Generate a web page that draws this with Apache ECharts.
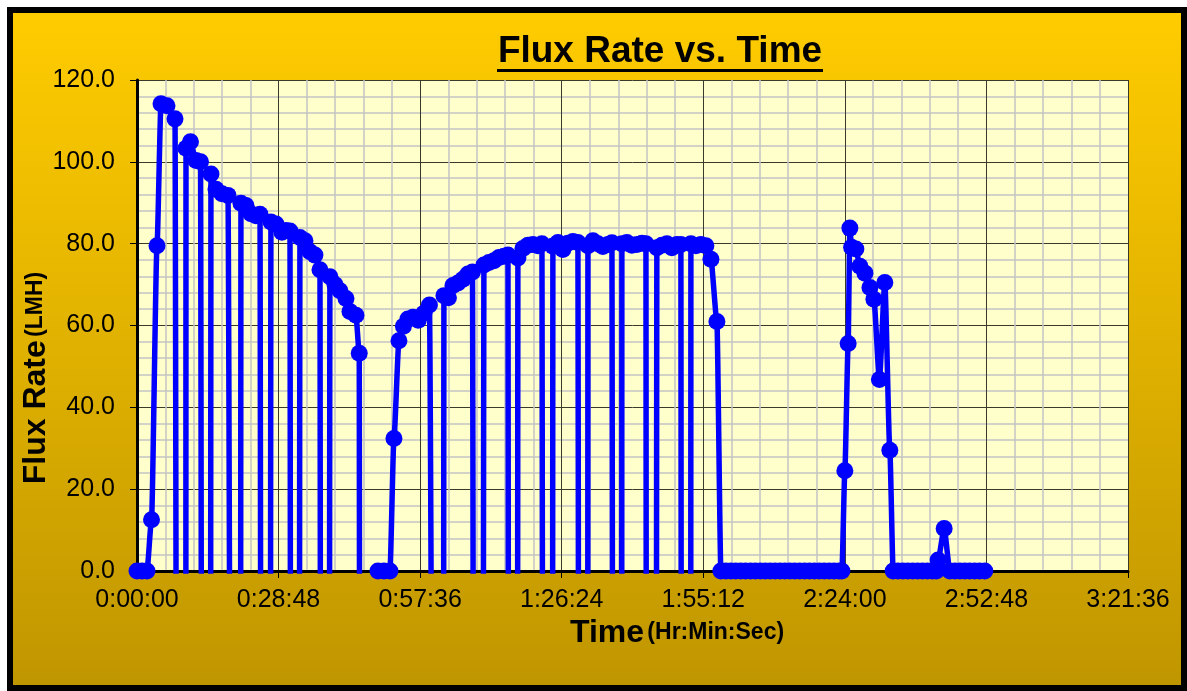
<!DOCTYPE html>
<html>
<head>
<meta charset="utf-8">
<title>Flux Rate vs. Time</title>
<script src="https://cdn.jsdelivr.net/npm/echarts@6/dist/echarts.min.js"></script>
<style>
html, body { margin: 0; padding: 0; background: #fff; }
#chart { position: absolute; left: 7px; top: 7px; width: 1168px; height: 672px; border: 6px solid #000; }
</style>
</head>
<body>
<div id="chart"></div>
<script>
// elapsed run time in minutes, one line per filtration cycle
// (backflush readings are negative and fall below the axis)
var runMinutes = [
	0.00, 1.02, 2.03, 2.95, 4.07, 4.88, 6.10, 7.73,
	8.20, 9.91,
	9.97, 10.88, 12.00, 12.92,
	13.28, 14.91,
	15.05, 16.07, 17.29, 18.51,
	19.26, 21.01,
	21.15, 22.17, 23.19, 24.20, 25.02,
	25.32, 27.05,
	27.25, 28.27, 29.49, 30.31, 31.12,
	31.32, 32.95,
	33.15, 34.17, 35.19, 36.20, 37.22,
	37.42, 39.05,
	39.25, 40.27, 41.29, 42.51, 43.32, 44.54, 45.21,
	45.36,
	49.02, 50.24, 51.46,
	52.27, 53.29, 54.20, 55.12, 56.14, 57.21, 58.37, 59.49,
	60.47, 62.30,
	62.44, 63.36, 64.27, 65.29, 66.31, 67.32, 68.24,
	68.60, 70.31,
	70.58, 71.59, 72.61, 73.63, 74.64, 75.46,
	75.66, 77.35,
	77.49, 78.51, 79.53, 80.54, 81.56, 82.37,
	82.64, 84.47,
	84.61, 85.63, 86.64, 87.66, 88.68, 89.69,
	89.96, 91.67,
	91.73, 92.75, 93.76, 94.78, 95.80, 96.61,
	96.88, 98.58,
	98.64, 99.66, 100.68, 101.70, 102.71, 103.53,
	103.67, 105.56,
	105.76, 106.78, 107.80, 108.81, 109.83, 110.64,
	110.79, 112.62,
	112.68, 113.70, 114.71, 115.73, 116.75, 117.97,
	118.78, 119.8, 120.8, 121.8, 122.8, 123.8, 124.8, 125.8, 126.8, 127.8, 128.8, 129.8, 130.8,
	131.8, 132.8, 133.8, 134.8, 135.8, 136.8, 137.8, 138.8, 139.8, 140.8, 141.8, 142.8, 143.4,
	144.00, 144.67, 145.02, 145.37, 146.24, 147.06, 148.08, 149.10, 149.91, 151.03, 152.13, 153.15,
	153.82, 154.8, 155.8, 156.8, 157.8, 158.8, 159.8, 160.8, 161.8, 162.6,
	162.98, 164.20,
	165.36, 166.4, 167.4, 168.4, 169.4, 170.4, 171.4, 172.47
];

// flux rate in LMH, same layout as runMinutes
var fluxLMH = [
	0, 0, 0, 12.5, 79.5, 114.2, 113.7, 110.5,
	-150, -150,
	103.3, 104.9, 100.3, 100.0,
	-150, -150,
	97.0, 93.3, 92.2, 91.8,
	-150, -150,
	89.9, 89.3, 87.3, 86.8, 87.2,
	-150, -150,
	85.3, 84.8, 82.8, 83.2, 83.1,
	-150, -150,
	81.5, 80.7, 78.0, 77.2, 73.6,
	-150, -150,
	71.9, 70.0, 68.5, 66.6, 63.4, 62.5, 53.2,
	-150,
	0, 0, 0,
	32.4, 56.3, 59.8, 61.6, 62.0, 61.3, 63.0, 65.0,
	-150, -150,
	67.3, 66.8, 69.8, 70.4, 71.3, 72.6, 73.1,
	-150, -150,
	74.8, 75.4, 75.8, 76.6, 76.9, 77.2,
	-150, -150,
	76.5, 78.8, 79.6, 79.8, 79.5, 80.0,
	-150, -150,
	79.4, 80.3, 78.6, 80.1, 80.5, 80.3,
	-150, -150,
	79.5, 80.7, 80.0, 79.3, 79.8, 80.2,
	-150, -150,
	80.0, 80.3, 79.6, 79.8, 80.1, 80.0,
	-150, -150,
	79.0, 79.6, 80.0, 79.0, 79.8, 79.8,
	-150, -150,
	80.0, 79.5, 79.8, 79.5, 76.2, 61.0,
	0, 0, 0, 0, 0, 0, 0, 0, 0, 0, 0, 0, 0,
	0, 0, 0, 0, 0, 0, 0, 0, 0, 0, 0, 0, 0,
	24.5, 55.6, 83.8, 79.1, 78.7, 74.5, 72.8, 69.3, 66.4, 46.8, 70.5, 29.5,
	0, 0, 0, 0, 0, 0, 0, 0, 0, 0,
	2.7, 10.4,
	0, 0, 0, 0, 0, 0, 0, 0
];

var xMaxSec = 12096;   // 3:21:36
var xStepSec = 1728;   // 0:28:48
var yMax = 120;
var yStep = 20;

function pad(n) {
	return n < 10 ? '0' + n : '' + n;
}
function hms(sec) {
	sec = Math.round(sec);
	var h = Math.floor(sec / 3600);
	var m = Math.floor((sec % 3600) / 60);
	var s = sec % 60;
	return h + ':' + pad(m) + ':' + pad(s);
}

var points = [];
for (var i = 0; i < runMinutes.length; i++) {
	points.push([runMinutes[i] * 60, fluxLMH[i]]);
}

var font = '"Liberation Sans", Arial, sans-serif';
var myChart = echarts.init(document.getElementById('chart'));

var option = {
	animation: false,
	backgroundColor: new echarts.graphic.LinearGradient(0, 0, 0, 1, [
		{ offset: 0, color: '#FFCC00' },
		{ offset: 1, color: '#C09600' }
	]),
	textStyle: { fontFamily: font },
	grid: {
		left: 124,
		top: 67,
		right: 53,
		bottom: 114,
		show: true,
		backgroundColor: '#FFFFCC',
		borderWidth: 0
	},
	xAxis: {
		type: 'value',
		min: 0,
		max: xMaxSec,
		interval: xStepSec,
		axisLine: { onZero: false, lineStyle: { color: '#000', width: 3 } },
		axisTick: { show: true, length: 7, lineStyle: { color: '#000', width: 1 } },
		axisLabel: {
			formatter: hms,
			fontSize: 25,
			color: '#000',
			margin: 17,
			fontFamily: font
		},
		splitLine: { show: true, lineStyle: { color: '#3a3a2a', width: 1 } },
		minorTick: { show: false, splitNumber: 5 },
		minorSplitLine: { show: true, lineStyle: { color: '#C4C4C4', width: 1.5 } }
	},
	yAxis: {
		type: 'value',
		min: 0,
		max: yMax,
		interval: yStep,
		axisLine: { show: true, lineStyle: { color: '#000', width: 3 } },
		axisTick: { show: true, length: 7, lineStyle: { color: '#000', width: 1 } },
		axisLabel: {
			formatter: function (v) { return v.toFixed(1); },
			fontSize: 25,
			color: '#000',
			margin: 22,
			fontFamily: font
		},
		splitLine: { show: true, lineStyle: { color: '#3a3a2a', width: 1 } },
		minorTick: { show: false, splitNumber: 5 },
		minorSplitLine: { show: true, lineStyle: { color: '#C4C4C4', width: 1.5 } }
	},
	series: [
		{
			type: 'line',
			data: points,
			clip: true,
			smooth: 0.2,
			smoothMonotone: 'x',
			symbol: 'circle',
			symbolSize: 17,
			showAllSymbol: true,
			lineStyle: { color: '#0000FF', width: 5.5 },
			itemStyle: { color: '#0000FF' },
			z: 5
		}
	],
	graphic: [
		{
			type: 'text',
			x: 647,
			y: 39,
			style: {
				text: 'Flux Rate vs. Time',
				fontFamily: font,
				fontSize: 37,
				fontWeight: 'bold',
				fill: '#000',
				align: 'center',
				verticalAlign: 'middle'
			}
		},
		{
			type: 'rect',
			shape: { x: 484, y: 56, width: 326, height: 3 },
			style: { fill: '#000' }
		},
		{
			type: 'text',
			x: 23,
			y: 365,
			rotation: Math.PI / 2,
			style: {
				text: '{a|Flux Rate} {b|(LMH)}',
				fill: '#000',
				align: 'center',
				verticalAlign: 'middle',
				rich: {
					a: { fontFamily: font, fontSize: 32, fontWeight: 'bold', fill: '#000' },
					b: { fontFamily: font, fontSize: 23, fontWeight: 'bold', fill: '#000' }
				}
			}
		},
		{
			type: 'text',
			x: 664,
			y: 620,
			style: {
				text: '{a|Time} {b|(Hr:Min:Sec)}',
				fill: '#000',
				align: 'center',
				verticalAlign: 'middle',
				rich: {
					a: { fontFamily: font, fontSize: 32, fontWeight: 'bold', fill: '#000' },
					b: { fontFamily: font, fontSize: 23, fontWeight: 'bold', fill: '#000' }
				}
			}
		}
	]
};

myChart.setOption(option);
</script>
</body>
</html>
